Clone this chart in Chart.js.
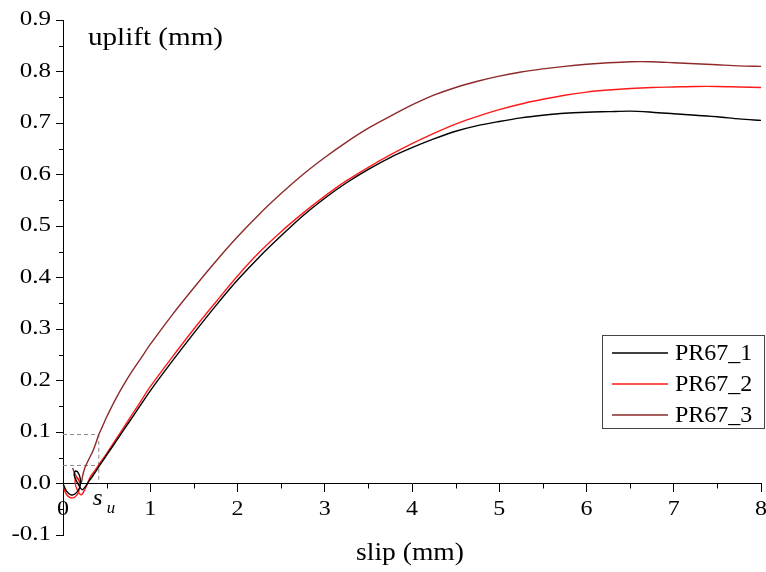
<!DOCTYPE html>
<html>
<head>
<meta charset="utf-8">
<script src="https://cdn.jsdelivr.net/npm/chart.js@4.4.1/dist/chart.umd.min.js"></script>
<style>
  html, body { margin: 0; padding: 0; background: #fff; }
  #wrap { position: relative; width: 766px; height: 572px; }
</style>
</head>
<body>
<div id="wrap"><canvas id="grafico"></canvas></div>
<script>
// slip / uplift (mm) for each specimen
var slip1 = [0, 0.04, 0.09, 0.14, 0.19, 0.2, 0.17, 0.14, 0.13, 0.17, 0.22, 0.26, 0.3, 0.35, 0.42,
  0.5, 0.6, 0.7, 0.8, 0.9, 1.0, 1.25, 1.5, 1.75, 2.0, 2.25, 2.5, 2.75, 3.0, 3.25, 3.5, 3.75, 4.0,
  4.25, 4.5, 4.75, 5.0, 5.25, 5.5, 5.75, 6.0, 6.25, 6.5, 6.75, 7.0, 7.25, 7.5, 7.75, 8.0];
var uplift1 = [0, -0.015, -0.022, -0.02, -0.008, 0.008, 0.022, 0.024, 0.015, 0.0, -0.012, -0.005, 0.005, 0.017, 0.035,
  0.055, 0.08, 0.105, 0.13, 0.155, 0.18, 0.237, 0.292, 0.345, 0.395, 0.44, 0.481, 0.52, 0.554, 0.584, 0.61, 0.633, 0.652,
  0.669, 0.684, 0.695, 0.703, 0.71, 0.715, 0.719, 0.721, 0.722, 0.723, 0.721, 0.718, 0.715, 0.712, 0.708, 0.705];

var slip2 = [0, 0.02, 0.06, 0.11, 0.16, 0.19, 0.18, 0.15, 0.14, 0.17, 0.21, 0.25, 0.28, 0.31, 0.36, 0.42,
  0.5, 0.6, 0.7, 0.8, 0.9, 1.0, 1.25, 1.5, 1.75, 2.0, 2.25, 2.5, 2.75, 3.0, 3.25, 3.5, 3.75, 4.0,
  4.25, 4.5, 4.75, 5.0, 5.25, 5.5, 5.75, 6.0, 6.25, 6.5, 6.75, 7.0, 7.25, 7.5, 7.75, 8.0];
var uplift2 = [0, -0.015, -0.025, -0.028, -0.022, -0.008, 0.008, 0.012, 0.0, -0.015, -0.022, -0.012, 0.0, 0.012, 0.024, 0.039,
  0.058, 0.084, 0.11, 0.136, 0.162, 0.188, 0.245, 0.3, 0.352, 0.403, 0.449, 0.489, 0.525, 0.558, 0.588, 0.614, 0.638, 0.66,
  0.68, 0.698, 0.713, 0.726, 0.737, 0.746, 0.754, 0.76, 0.764, 0.767, 0.769, 0.77, 0.771, 0.771, 0.77, 0.769];

var slip3 = [0.11, 0.14, 0.18, 0.21, 0.225, 0.25, 0.29, 0.34, 0.38, 0.41, 0.45,
  0.5, 0.6, 0.7, 0.8, 0.9, 1.0, 1.25, 1.5, 1.75, 2.0, 2.25, 2.5, 2.75, 3.0, 3.25, 3.5, 3.75, 4.0,
  4.25, 4.5, 4.75, 5.0, 5.25, 5.5, 5.75, 6.0, 6.25, 6.5, 6.75, 7.0, 7.25, 7.5, 7.75, 8.0];
var uplift3 = [0.03, 0.018, 0.006, 0.002, 0.015, 0.03, 0.045, 0.062, 0.08, 0.095, 0.11,
  0.129, 0.163, 0.193, 0.22, 0.245, 0.27, 0.327, 0.38, 0.431, 0.479, 0.523, 0.563, 0.6, 0.633, 0.663, 0.69, 0.713, 0.735,
  0.754, 0.769, 0.781, 0.791, 0.799, 0.805, 0.81, 0.814, 0.817, 0.819, 0.819, 0.817, 0.815, 0.813, 0.811, 0.81];

var nomes = ["PR67_1", "PR67_2", "PR67_3"];
var cores = ["#000000", "#ff1a1a", "#8e2a2a"];

// s_u guide: slip at onset and the two uplift levels
var suSlip = 0.41;
var suLevels = [0.095, 0.035];

var xTicks = [0, 1, 2, 3, 4, 5, 6, 7, 8];
var yTicks = [-0.1, 0, 0.1, 0.2, 0.3, 0.4, 0.5, 0.6, 0.7, 0.8, 0.9];
var xLabels = ["0", "1", "2", "3", "4", "5", "6", "7", "8"];
var yLabels = ["-0.1", "0.0", "0.1", "0.2", "0.3", "0.4", "0.5", "0.6", "0.7", "0.8", "0.9"];

var serif = "'Liberation Serif', 'Times New Roman', serif";

function pontos(xs, ys) {
  return xs.map(function(x, i) { return {x: x, y: ys[i]}; });
}

var datasets = [
  {label: nomes[0], data: pontos(slip1, uplift1), borderColor: cores[0]},
  {label: nomes[1], data: pontos(slip2, uplift2), borderColor: cores[1]},
  {label: nomes[2], data: pontos(slip3, uplift3), borderColor: cores[2]}
].map(function(d) {
  d.showLine = true; d.borderWidth = 1.4; d.pointRadius = 0; d.tension = 0.3; d.fill = false;
  return d;
});

// dashed guide lines for s_u
var guia = [
  {x: 0, y: suLevels[0]}, {x: suSlip, y: suLevels[0]}, {x: suSlip, y: 0}, {x: null, y: null},
  {x: 0, y: suLevels[1]}, {x: suSlip, y: suLevels[1]}
];
datasets.push({
  label: "", data: guia, showLine: true, borderColor: "#8a8a8a", borderWidth: 1,
  borderDash: [4, 3], pointRadius: 0, spanGaps: false, tension: 0
});

// text drawn a little wide, like the original export
function texto(ctx, str, x, y, font, align, sx) {
  ctx.save();
  ctx.font = font;
  ctx.textAlign = align;
  ctx.translate(x, y);
  ctx.scale(sx, 1);
  ctx.fillText(str, 0, 0);
  ctx.restore();
}

var extras = {
  id: "extras",
  afterDraw: function(chart) {
    var ctx = chart.ctx, xs = chart.scales.x, ys = chart.scales.y;
    var y0 = ys.getPixelForValue(0), left = chart.chartArea.left;
    ctx.save();
    ctx.strokeStyle = "#000"; ctx.lineWidth = 1;
    ctx.beginPath();
    // minor ticks
    for (var i = 0; i < xTicks.length - 1; i++) {
      var px = Math.round(xs.getPixelForValue(xTicks[i] + 0.5)) + 0.5;
      ctx.moveTo(px, y0); ctx.lineTo(px, y0 + 5);
    }
    for (var j = 0; j < yTicks.length - 1; j++) {
      var py = Math.round(ys.getPixelForValue(yTicks[j] + 0.05)) + 0.5;
      ctx.moveTo(left - 4, py); ctx.lineTo(left, py);
    }
    ctx.stroke();

    ctx.fillStyle = "#000";
    ctx.textBaseline = "middle";
    // tick labels
    xTicks.forEach(function(v, n) {
      texto(ctx, xLabels[n], xs.getPixelForValue(v), y0 + 26, "20px " + serif, "center", 1.2);
    });
    yTicks.forEach(function(v, n) {
      texto(ctx, yLabels[n], left - 12, ys.getPixelForValue(v), "20px " + serif, "right", 1.25);
    });

    // axis titles
    ctx.textBaseline = "alphabetic";
    texto(ctx, "uplift (mm)", 88, 45, "26px " + serif, "left", 1.12);
    texto(ctx, "slip (mm)", 410, 560, "26px " + serif, "center", 1.06);

    // s_u label
    var sx = xs.getPixelForValue(suSlip);
    texto(ctx, "s", sx - 6, 505, "italic 24px " + serif, "left", 1.05);
    texto(ctx, "u", sx + 8, 513, "italic 16px " + serif, "left", 1.05);

    // legend box
    var bx = 602.5, by = 335.5, bw = 162, bh = 93;
    ctx.strokeStyle = "#444"; ctx.lineWidth = 1;
    ctx.strokeRect(bx, by, bw, bh);
    ctx.font = "24px " + serif;
    ctx.textBaseline = "middle";
    ctx.textAlign = "left";
    for (var k = 0; k < 3; k++) {
      var ds = chart.data.datasets[k];
      var ly = 353 + k * 31;
      ctx.strokeStyle = ds.borderColor; ctx.lineWidth = 1.5;
      ctx.beginPath(); ctx.moveTo(612, ly); ctx.lineTo(668, ly); ctx.stroke();
      ctx.fillStyle = "#000";
      ctx.fillText(ds.label, 675, ly + 1);
    }
    ctx.restore();
  }
};

new Chart(document.getElementById("grafico"), {
  type: "scatter",
  data: { datasets: datasets },
  plugins: [extras],
  options: {
    responsive: true,
    maintainAspectRatio: false,
    animation: false,
    layout: { padding: { left: 0, top: 20, right: 5, bottom: 37 } },
    plugins: { legend: { display: false }, tooltip: { enabled: false } },
    scales: {
      x: {
        type: "linear", min: 0, max: 8,
        position: { y: 0 },
        afterBuildTicks: function(s) { s.ticks = xTicks.map(function(v) { return {value: v}; }); },
        afterFit: function(s) { s.paddingLeft = 0; s.paddingRight = 0; },
        border: { color: "#000", width: 1 },
        grid: { drawOnChartArea: false, drawTicks: true, tickLength: 8, tickColor: "#000" },
        ticks: { display: false }
      },
      y: {
        type: "linear", min: -0.1, max: 0.9,
        afterBuildTicks: function(s) { s.ticks = yTicks.map(function(v) { return {value: v}; }); },
        afterFit: function(s) { s.width = 63; s.paddingTop = 0; s.paddingBottom = 0; },
        border: { color: "#000", width: 1 },
        grid: { drawOnChartArea: false, drawTicks: true, tickLength: 7, tickColor: "#000" },
        ticks: { display: false }
      }
    }
  }
});
</script>
</body>
</html>
